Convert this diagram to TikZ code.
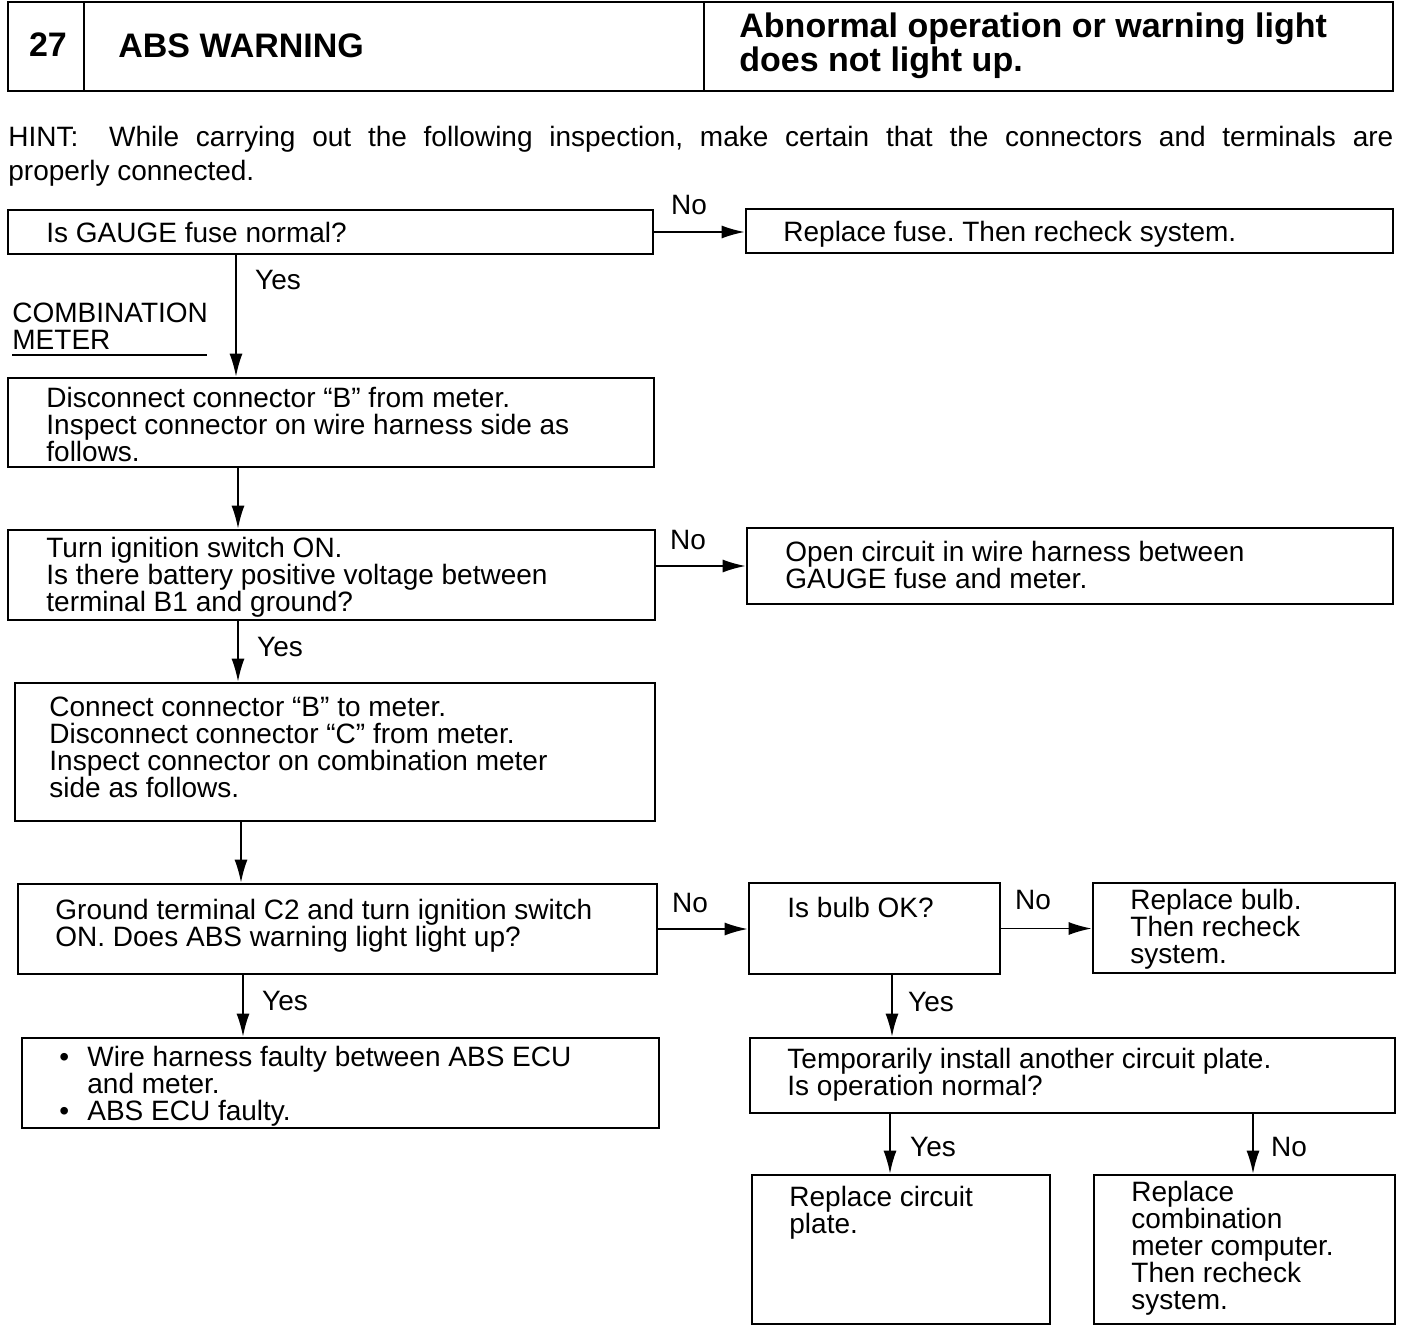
\documentclass[tikz,border=0pt]{standalone}
\usepackage{fontspec}
\setmainfont{Liberation Sans}
\usetikzlibrary{arrows.meta,fit,calc}
\frenchspacing
\newcommand\mystrut{\rule{0pt}{12pt}}
\newcommand\mytstrut{\rule{0pt}{15pt}}
\newcommand\mytight{\lineskiplimit=-20pt\relax\frenchspacing}
\newcommand\myfont{\fontsize{14}{13.5}\selectfont\mytight}
\newcommand\myhintfont{\fontsize{14}{17}\selectfont\mytight}
\newcommand\mytitlefont{\bfseries\fontsize{17}{17}\selectfont\mytight}
\begin{document}
\begin{tikzpicture}[x=0.5pt,y=-0.5pt,
  box/.style={draw, line width=1.3pt, inner sep=0pt},
  arr/.style={line width=0.9pt, -{Latex[length=11.5pt,width=6.5pt]}},
  txt/.style={inner sep=0pt, anchor=north west, align=left, font=\myfont},
  lbl/.style={inner sep=0pt, font=\myfont},
  ttl/.style={inner sep=0pt, anchor=north west, align=left, font=\mytitlefont}]
\useasboundingbox (0,0) rectangle (1408,1326);

% title
\node[box, fit={(8,2) (84,91)}] (t1) {};
\node[box, fit={(84,2) (704,91)}] (t2) {};
\node[box, fit={(704,2) (1393,91)}] (t3) {};
\node[inner sep=0pt, font=\mytitlefont] (t1txt) at (48,45) {27};
\node[ttl] (t2txt) at (118,27) {\mytstrut ABS WARNING};
\node[ttl] (t3txt) at (739,7) {\mytstrut Abnormal operation or warning light\\does not light up.};

% hint
\node[txt, font=\myhintfont] (hint) at (8,122)
  {\makebox[692.5pt][s]{\mystrut HINT:\hspace{1.1em}While carrying out the following inspection, make certain that the connectors and terminals are}\\properly connected.};

% boxes
\node[box, fit={(8,210) (653,254)}] (b1) {};
\node[box, fit={(746,209) (1393,253)}] (r1) {};
\node[box, fit={(8,378) (654,467)}] (b2) {};
\node[box, fit={(8,530) (655,620)}] (b3) {};
\node[box, fit={(747,528) (1393,604)}] (o1) {};
\node[box, fit={(15,683) (655,821)}] (b4) {};
\node[box, fit={(18,884) (657,974)}] (b5) {};
\node[box, fit={(749,883) (1000,974)}] (bulb) {};
\node[box, fit={(1093,883) (1395,973)}] (rb) {};
\node[box, fit={(22,1038) (659,1128)}] (b6) {};
\node[box, fit={(750,1038) (1395,1113)}] (tmp) {};
\node[box, fit={(752,1175) (1050,1324)}] (rcp) {};
\node[box, fit={(1094,1175) (1395,1324)}] (rcm) {};

% box texts
\node[txt] (b1txt) at (46,218) {\mystrut Is GAUGE fuse normal?};
\node[txt] (r1txt) at (783,217) {\mystrut Replace fuse. Then recheck system.};
\node[txt] (b2txt) at (46,383) {\mystrut Disconnect connector ``B'' from meter.\\Inspect connector on wire harness side as\\follows.};
\node[txt] (b3txt) at (46,533) {\mystrut Turn ignition switch ON.\\Is there battery positive voltage between\\terminal B1 and ground?};
\node[txt] (o1txt) at (785,537) {\mystrut Open circuit in wire harness between\\GAUGE fuse and meter.};
\node[txt] (b4txt) at (49,692) {\mystrut Connect connector ``B'' to meter.\\Disconnect connector ``C'' from meter.\\Inspect connector on combination meter\\side as follows.};
\node[txt] (b5txt) at (55,895) {\mystrut Ground terminal C2 and turn ignition switch\\ON. Does ABS warning light light up?};
\node[txt] (bulbtxt) at (787,893) {\mystrut Is bulb OK?};
\node[txt] (rbtxt) at (1130,885) {\mystrut Replace bulb.\\Then recheck\\system.};
\node[txt] (b6txt) at (55,1042) {\mystrut\makebox[16pt][l]{\hspace{2pt}•}Wire harness faulty between ABS ECU\\\hspace*{16pt}and meter.\\\makebox[16pt][l]{\hspace{2pt}•}ABS ECU faulty.};
\node[txt] (tmptxt) at (787,1044) {\mystrut Temporarily install another circuit plate.\\Is operation normal?};
\node[txt] (rcptxt) at (789,1182) {\mystrut Replace circuit\\plate.};
\node[txt] (rcmtxt) at (1131,1177) {\mystrut Replace\\combination\\meter computer.\\Then recheck\\system.};

% side label
\node[txt] (comb) at (12,298) {\mystrut COMBINATION\\METER};
\coordinate (ul1) at (12,355);
\coordinate (ul2) at (207,355);
\draw[line width=0.7pt] (ul1) -- (ul2);

% connector x positions
\coordinate (x1) at (236,0);
\coordinate (x2) at (238,0);
\coordinate (x3) at (241,0);
\coordinate (x4) at (243,0);
\coordinate (x5) at (892,0);
\coordinate (x6) at (890,0);
\coordinate (x7) at (1253,0);

% arrows
\draw[arr] (b1.east) -- (b1.east -| r1.west);
\draw[arr] (b1.south -| x1) -- (b2.north -| x1);
\draw[arr] (b2.south -| x2) -- (b3.north -| x2);
\draw[arr] (o1.west -| b3.east) -- (o1.west);
\draw[arr] (b3.south -| x2) -- (b4.north -| x2);
\draw[arr] (b4.south -| x3) -- (b5.north -| x3);
\draw[arr] (b5.east) -- (b5.east -| bulb.west);
\draw[arr] (bulb.east) -- (bulb.east -| rb.west);
\draw[arr] (b5.south -| x4) -- (b6.north -| x4);
\draw[arr] (bulb.south -| x5) -- (tmp.north -| x5);
\draw[arr] (tmp.south -| x6) -- (rcp.north -| x6);
\draw[arr] (tmp.south -| x7) -- (rcm.north -| x7);

% yes/no labels
\node[lbl] (n1) at (689,205) {No};
\node[lbl] (y1) at (278,280) {Yes};
\node[lbl] (n2) at (688,540) {No};
\node[lbl] (y2) at (280,647) {Yes};
\node[lbl] (n3) at (690,903) {No};
\node[lbl] (n4) at (1033,900) {No};
\node[lbl] (y3) at (285,1001) {Yes};
\node[lbl] (y4) at (931,1002) {Yes};
\node[lbl] (y5) at (933,1147) {Yes};
\node[lbl] (n5) at (1289,1147) {No};
\end{tikzpicture}
\end{document}
